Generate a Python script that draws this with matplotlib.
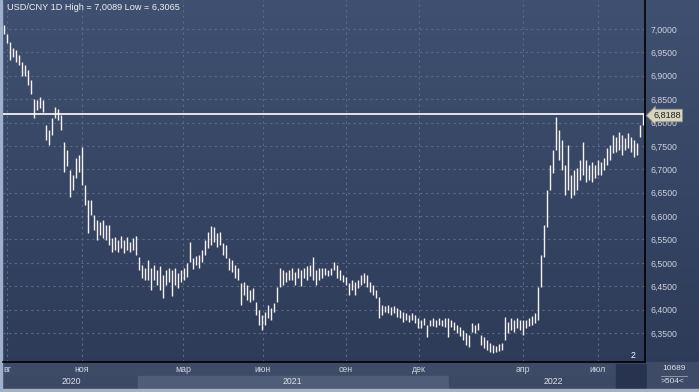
import numpy as np
import matplotlib.pyplot as plt
from matplotlib.patches import Rectangle
from matplotlib.colors import LinearSegmentedColormap

plt.rcParams['font.family'] = ['Liberation Sans', 'DejaVu Sans']

# --- data (one bar every ~2.5 trading days) ---
title = "USD/CNY 1D High = 7,0089 Low = 6,3065"
last_price = 6.8188

highs = [
    7.009, 6.990, 6.972, 6.960, 6.955, 6.945, 6.930, 6.923, 6.912, 6.891,
    6.850, 6.848, 6.855, 6.848, 6.795, 6.784, 6.810, 6.833, 6.830, 6.816,
    6.758, 6.741, 6.699, 6.688, 6.724, 6.731, 6.748, 6.667, 6.634, 6.634,
    6.602, 6.592, 6.587, 6.592, 6.580, 6.580, 6.553, 6.555, 6.549, 6.558,
    6.549, 6.555, 6.545, 6.553, 6.558, 6.513, 6.496, 6.489, 6.506, 6.489,
    6.496, 6.485, 6.493, 6.474, 6.485, 6.489, 6.485, 6.489, 6.478, 6.485,
    6.489, 6.500, 6.545, 6.510, 6.515, 6.517, 6.527, 6.549, 6.566, 6.579,
    6.577, 6.564, 6.566, 6.542, 6.538, 6.510, 6.506, 6.496, 6.489, 6.457,
    6.459, 6.453, 6.442, 6.446, 6.416, 6.399, 6.388, 6.395, 6.410, 6.403,
    6.414, 6.448, 6.489, 6.485, 6.480, 6.485, 6.489, 6.480, 6.489, 6.485,
    6.489, 6.493, 6.496, 6.513, 6.485, 6.489, 6.489, 6.489, 6.485, 6.489,
    6.502, 6.496, 6.485, 6.474, 6.470, 6.457, 6.463, 6.459, 6.463, 6.474,
    6.478, 6.474, 6.459, 6.453, 6.442, 6.427, 6.410, 6.408, 6.410, 6.406,
    6.408, 6.403, 6.399, 6.395, 6.393, 6.388, 6.393, 6.388, 6.382, 6.378,
    6.382, 6.367, 6.378, 6.382, 6.378, 6.382, 6.378, 6.382, 6.382, 6.378,
    6.373, 6.367, 6.363, 6.356, 6.350, 6.346, 6.371, 6.367, 6.371, 6.346,
    6.341, 6.335, 6.329, 6.324, 6.322, 6.326, 6.329, 6.384, 6.373, 6.382,
    6.378, 6.382, 6.378, 6.378, 6.378, 6.382, 6.386, 6.393, 6.448, 6.517,
    6.581, 6.656, 6.709, 6.741, 6.812, 6.784, 6.763, 6.709, 6.752, 6.688,
    6.699, 6.703, 6.720, 6.758, 6.720, 6.709, 6.716, 6.709, 6.720, 6.716,
    6.724, 6.745, 6.752, 6.774, 6.770, 6.780, 6.774, 6.767, 6.778, 6.770,
    6.763, 6.756, 6.795, 6.818,
]
lows = [
    6.990, 6.970, 6.934, 6.940, 6.930, 6.923, 6.900, 6.900, 6.880, 6.860,
    6.810, 6.827, 6.832, 6.823, 6.763, 6.752, 6.773, 6.810, 6.805, 6.784,
    6.694, 6.707, 6.641, 6.656, 6.681, 6.694, 6.667, 6.624, 6.564, 6.602,
    6.570, 6.549, 6.560, 6.553, 6.549, 6.538, 6.523, 6.527, 6.523, 6.532,
    6.521, 6.527, 6.523, 6.527, 6.517, 6.485, 6.468, 6.463, 6.463, 6.442,
    6.463, 6.453, 6.442, 6.425, 6.453, 6.459, 6.430, 6.453, 6.446, 6.459,
    6.463, 6.470, 6.502, 6.487, 6.495, 6.489, 6.502, 6.517, 6.532, 6.538,
    6.545, 6.534, 6.538, 6.517, 6.510, 6.485, 6.480, 6.468, 6.463, 6.410,
    6.431, 6.421, 6.416, 6.421, 6.388, 6.367, 6.356, 6.367, 6.382, 6.378,
    6.395, 6.416, 6.448, 6.453, 6.459, 6.463, 6.463, 6.453, 6.468, 6.451,
    6.468, 6.463, 6.472, 6.463, 6.453, 6.463, 6.468, 6.474, 6.472, 6.474,
    6.485, 6.468, 6.463, 6.459, 6.453, 6.431, 6.442, 6.431, 6.446, 6.453,
    6.457, 6.448, 6.438, 6.431, 6.425, 6.382, 6.388, 6.395, 6.393, 6.388,
    6.393, 6.384, 6.382, 6.373, 6.378, 6.373, 6.378, 6.371, 6.360, 6.360,
    6.367, 6.341, 6.365, 6.365, 6.363, 6.367, 6.365, 6.363, 6.341, 6.363,
    6.356, 6.350, 6.344, 6.335, 6.324, 6.320, 6.352, 6.350, 6.356, 6.324,
    6.318, 6.314, 6.310, 6.307, 6.310, 6.311, 6.314, 6.335, 6.350, 6.356,
    6.352, 6.360, 6.356, 6.346, 6.360, 6.365, 6.367, 6.371, 6.378, 6.448,
    6.513, 6.577, 6.656, 6.692, 6.741, 6.720, 6.699, 6.645, 6.656, 6.639,
    6.645, 6.656, 6.677, 6.688, 6.673, 6.677, 6.673, 6.681, 6.688, 6.688,
    6.699, 6.709, 6.720, 6.735, 6.737, 6.741, 6.731, 6.741, 6.746, 6.737,
    6.726, 6.731, 6.769, 6.795,
]

month_labels = ["вг", "ноя", "мар", "июн", "сен", "дек", "апр", "июл"]
month_pos = [1, 26, 59.7, 86.3, 114, 138.3, 173, 198]
year_labels = ["2020", "2021", "2022"]
year_pos = [22.3, 96.3, 183]
y_ticks = [6.35, 6.40, 6.45, 6.50, 6.55, 6.60, 6.65, 6.70, 6.75, 6.80,
           6.85, 6.90, 6.95, 7.00]

W, H = 699, 392
fig = plt.figure(figsize=(W / 100, H / 100), dpi=100)


def fx(px):
    return px / W


def fy(py):
    return 1 - py / H


# background gradient over the whole window
bg = fig.add_axes([0, 0, 1, 1], zorder=0)
cmap = LinearSegmentedColormap.from_list("bg", ["#405070", "#2c3a57"])
bg.imshow(np.linspace(0, 1, 256).reshape(-1, 1), aspect='auto', cmap=cmap,
          extent=[0, 1, 0, 1])
bg.set_axis_off()

# bottom strip: month row, year bands, small boxes
strip = [
    (0, 362, 646, 14, "#3d4b67"),
    (0, 376, 138, 13, "#3b4965"),
    (138, 376, 311, 13, "#4f5d79"),
    (449, 376, 166, 13, "#3b4965"),
    (616, 364, 30, 26, "#28344f"),
    (647, 362, 52, 28, "#3d4b67"),
    (0, 389, 699, 3, "#a7b1c0"),
]
for x0, y0, w, h, c in strip:
    fig.patches.append(Rectangle((fx(x0), fy(y0 + h)), fx(w), h / H,
                                 transform=fig.transFigure, color=c, zorder=1))
fig.patches.append(Rectangle((fx(0), fy(392)), fx(2), 1,
                             transform=fig.transFigure, color="#9fb0cc", zorder=1))

# main price axes
ax = fig.add_axes([fx(3), 1 - 362 / H, fx(642), 362 / H], zorder=2)
ax.set_facecolor('none')
x = np.arange(len(highs))
ax.vlines(x, lows, highs, color='#f6f2f2', linewidth=1.0)
ax.axhline(last_price, color='white', linewidth=1.2)

ax.set_xlim(-1 / 3, 213.67)
ax.set_ylim(6.288, 7.062)
ax.set_yticks(y_ticks)
ax.set_yticklabels([f"{v:.4f}".replace('.', ',') for v in y_ticks])
ax.set_xticks(month_pos)
ax.set_xticklabels([])
ax.yaxis.tick_right()
ax.tick_params(axis='y', length=0, pad=4, labelsize=6.3, labelcolor='#ccd3de')
ax.tick_params(axis='x', length=0)
ax.grid(True, color='#5a6a88', linestyle=(0, (2, 3)), linewidth=0.8)
for side in ['top', 'left']:
    ax.spines[side].set_visible(False)
ax.spines['right'].set_color('black')
ax.spines['bottom'].set_color('black')
ax.spines['right'].set_linewidth(1.2)
ax.spines['bottom'].set_linewidth(1.2)

ax.text(4 / 642, 1 - 8 / 362, title, transform=ax.transAxes, ha='left',
        va='center', fontsize=6.6, color='#eef0f4')

# month and year labels under the plot
for pos, lab in zip(month_pos, month_labels):
    ha = 'left' if lab == "вг" else 'center'
    xp = -0.3 if lab == "вг" else pos
    ax.annotate(lab, (xp, 0), xycoords=('data', 'axes fraction'),
                xytext=(0, -7), textcoords='offset pixels', ha=ha, va='center',
                fontsize=6.3, color='#cdd4df', annotation_clip=False)
for pos, lab in zip(year_pos, year_labels):
    ax.annotate(lab, (pos, 0), xycoords=('data', 'axes fraction'),
                xytext=(0, -20), textcoords='offset pixels', ha='center',
                va='center', fontsize=6.3, color='#dde2ea', annotation_clip=False)

# last price marker on the right
fig.text(fx(653), fy(115.5), "6,8188", ha='left', va='center', fontsize=6.5,
         color='#202020',
         bbox=dict(boxstyle='larrow,pad=0.2', fc='#d6d6bf', ec='#8f8f7c', lw=0.6))

fig.text(fx(633), fy(355), "2", ha='center', va='center', fontsize=6.3,
         color='white')
fig.text(fx(674), fy(369), "10689", ha='center', va='center', fontsize=6.0,
         color='#dde2ea')
fig.lines.append(plt.Line2D([fx(661), fx(687)], [fy(375.5), fy(375.5)],
                            transform=fig.transFigure, color='#9aa4b4', lw=0.6))
fig.text(fx(673), fy(381.5), ">504<", ha='center', va='center', fontsize=6.0,
         color='#dde2ea')

fig.savefig("out.png", dpi=100)
